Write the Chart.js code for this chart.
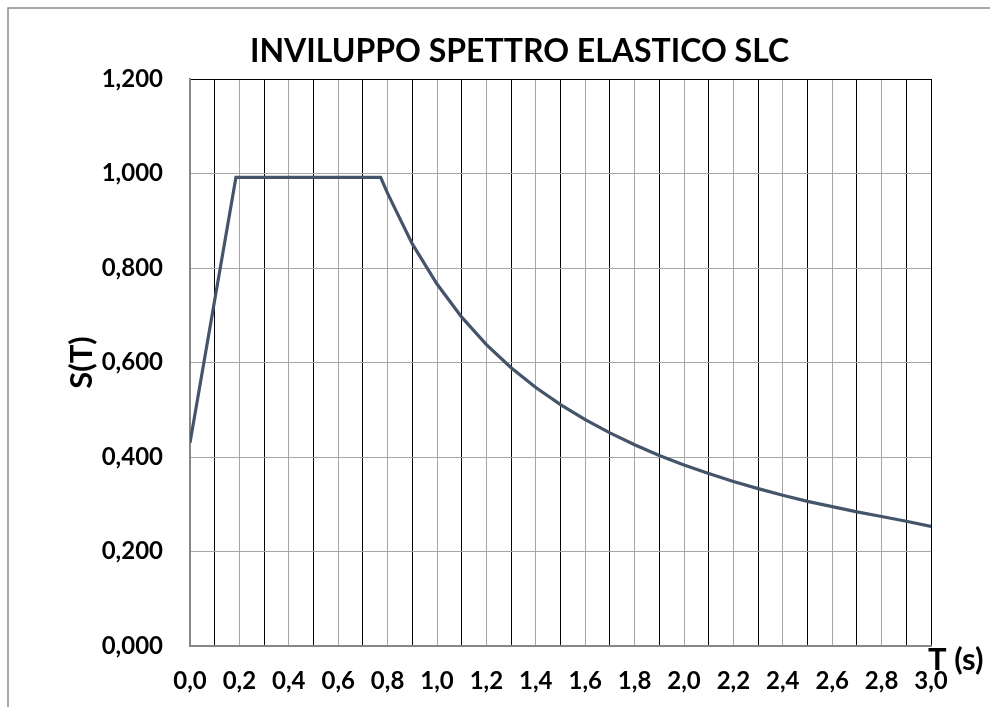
<!DOCTYPE html>
<html>
<head>
<meta charset="utf-8">
<title>Inviluppo spettro elastico SLC</title>
<script src="https://cdn.jsdelivr.net/npm/chart.js@4.4.1/dist/chart.umd.min.js"></script>
<style>
  html, body { margin: 0; padding: 0; background: #ffffff; }
  #wrap { width: 990px; height: 707px; position: relative; }
</style>
</head>
<body>
<div id="wrap"><canvas id="spettroChart"></canvas></div>
<script>
// periodi T (s) e ordinate S(T)
const periods = [0, 0.186, 0.772, 0.8, 0.9, 1.0, 1.1, 1.2, 1.3, 1.4, 1.5, 1.6, 1.7, 1.8, 1.9, 2.0,
                 2.1, 2.2, 2.3, 2.4, 2.5, 2.6, 2.7, 2.8, 2.9, 3.0];
const spectrum = [0.430, 0.992, 0.992, 0.958, 0.851, 0.766, 0.696, 0.638, 0.589, 0.547, 0.511, 0.479,
                  0.451, 0.426, 0.403, 0.383, 0.365, 0.348, 0.333, 0.319, 0.306, 0.295, 0.284, 0.274,
                  0.264, 0.253];

const xTickLabels = ['0,0', '0,2', '0,4', '0,6', '0,8', '1,0', '1,2', '1,4', '1,6', '1,8',
                     '2,0', '2,2', '2,4', '2,6', '2,8', '3,0'];
const yTickLabels = ['0,000', '0,200', '0,400', '0,600', '0,800', '1,000', '1,200'];

const chartTitle = 'INVILUPPO SPETTRO ELASTICO SLC';
const xTitle = 'T (s)';
const yTitle = 'S(T)';

const FONT = 'Lato';
const GRID_GRAY = '#a6a6a6';
const AXIS_GRAY = '#868686';

// cornice grigia, titolo centrato sulla cornice (che esce dall'immagine) e titolo asse X
const extrasPlugin = {
    id: 'extras',
    beforeDraw(chart) {
        const ctx = chart.ctx;
        ctx.save();
        ctx.fillStyle = '#ffffff';
        ctx.fillRect(0, 0, chart.width, chart.height);
        ctx.strokeStyle = '#8c8c8c';
        ctx.lineWidth = 1.5;
        ctx.strokeRect(8, 8, chart.width + 40, chart.height + 40);
        ctx.restore();
    },
    afterDraw(chart) {
        const ctx = chart.ctx;
        const area = chart.chartArea;
        ctx.save();
        ctx.fillStyle = '#000000';

        ctx.font = 'bold 32px ' + FONT;
        ctx.textAlign = 'center';
        ctx.textBaseline = 'middle';
        ctx.fillText(chartTitle, 519.5, 51.5);

        ctx.font = 'bold 31px ' + FONT;
        ctx.textAlign = 'left';
        ctx.textBaseline = 'alphabetic';
        ctx.fillText(xTitle, area.right - 3, area.bottom + 24);
        ctx.restore();
    }
};

const points = periods.map((t, i) => ({ x: t, y: spectrum[i] }));

new Chart(document.getElementById('spettroChart'), {
    type: 'line',
    data: {
        datasets: [{
            label: 'S(T)',
            data: points,
            borderColor: '#44546a',
            borderWidth: 3.2,
            pointRadius: 0,
            tension: 0,
            fill: false
        }]
    },
    options: {
        responsive: true,
        maintainAspectRatio: false,
        animation: false,
        layout: { padding: { left: 0, right: 59, top: 79, bottom: 0 } },
        plugins: {
            legend: { display: false },
            tooltip: { enabled: false },
            title: { display: false }
        },
        scales: {
            x: {
                type: 'linear',
                min: 0,
                max: 3,
                afterFit(scale) { scale.height = 61; },
                ticks: {
                    stepSize: 0.1,
                    autoSkip: false,
                    maxRotation: 0,
                    padding: 21,
                    color: '#000000',
                    font: { family: FONT, size: 24, weight: 'bold' },
                    callback: (value, index) => index % 2 === 0 ? xTickLabels[index / 2] : ''
                },
                grid: {
                    drawTicks: false,
                    lineWidth: 1,
                    color: (c) => (c.index % 2 === 1 || c.index === 30) ? '#000000' : GRID_GRAY
                },
                border: { color: AXIS_GRAY, width: 2 }
            },
            y: {
                min: 0,
                max: 1.2,
                afterFit(scale) { scale.width = 190; },
                title: {
                    display: true,
                    text: yTitle,
                    color: '#000000',
                    font: { family: FONT, size: 31, weight: 'bold', lineHeight: 1.2 },
                    padding: { top: 63.4, bottom: 0 }
                },
                ticks: {
                    stepSize: 0.2,
                    padding: 27,
                    color: '#000000',
                    font: { family: FONT, size: 24, weight: 'bold' },
                    callback: (value, index) => yTickLabels[index]
                },
                grid: {
                    drawTicks: false,
                    lineWidth: 1,
                    color: (c) => c.index === 6 ? '#000000' : GRID_GRAY
                },
                border: { color: AXIS_GRAY, width: 2 }
            }
        }
    },
    plugins: [extrasPlugin]
});
</script>
</body>
</html>
